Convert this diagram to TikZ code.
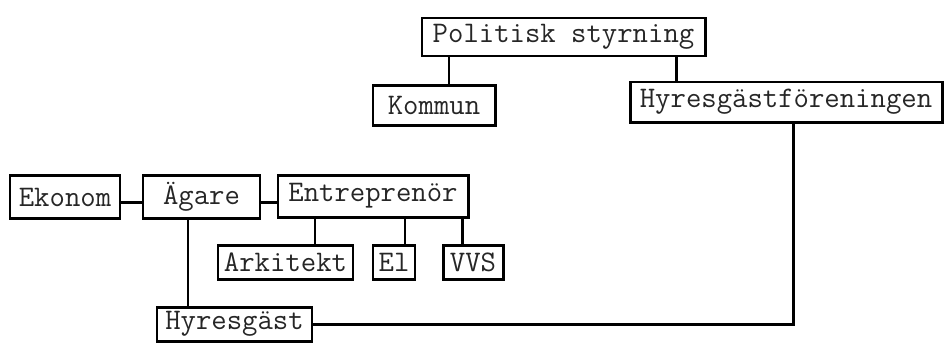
\documentclass[tikz,border=0pt]{standalone}
\usepackage{fontspec}

\tikzstyle{ruta}= [rectangle,draw,black,line width=1.7pt,inner sep=0pt,font=\ttfamily\fontsize{17}{20}\selectfont,text=black!85]
\tikzstyle{linje}= [black,line width=1.7pt]

\begin{document}
\begin{tikzpicture}

		\useasboundingbox (0,0) rectangle (18.88,-6.86);

		\node (pol) at (11.27,-0.74) [ruta,minimum width=5.66cm,minimum height=0.76cm] {Politisk styrning};
		\node (kom) at (8.68,-2.10) [ruta,minimum width=2.44cm,minimum height=0.80cm] {Kommun};
		\node (hyf) at (15.72,-2.04) [ruta,minimum width=6.24cm,minimum height=0.80cm] {Hyresgästföreningen};

		\node (eko) at (1.30,-3.94) [ruta,minimum width=2.20cm,minimum height=0.86cm] {Ekonom};
		\node (aga) at (4.03,-3.94) [ruta,minimum width=2.34cm,minimum height=0.86cm] {Ägare};
		\node (ent) at (7.46,-3.92) [ruta,minimum width=3.80cm,minimum height=0.84cm] {Entreprenör};

		\node (ark) at (5.71,-5.24) [ruta,minimum width=2.70cm,minimum height=0.68cm] {Arkitekt};
		\node (el) at (7.88,-5.24) [ruta,minimum width=0.84cm,minimum height=0.68cm] {El};
		\node (vvs) at (9.46,-5.24) [ruta,minimum width=1.20cm,minimum height=0.68cm] {VVS};

		\node (hyg) at (4.69,-6.48) [ruta,minimum width=3.10cm,minimum height=0.68cm] {Hyresgäst};

		\coordinate (k) at (8.98,0);
		\coordinate (h) at (13.52,0);
		\coordinate (r) at (15.86,0);
		\coordinate (a) at (3.76,0);
		\coordinate (e1) at (6.30,0);
		\coordinate (e2) at (8.10,0);
		\coordinate (e3) at (9.24,0);
		\coordinate (m) at (0,-4.04);

		\draw[linje] (pol.south -| k) -- (kom.north -| k);
		\draw[linje] (pol.south -| h) -- (hyf.north -| h);
		\draw[linje] (hyf.south -| r) |- (hyg.east);

		\draw[linje] (eko.east |- m) -- (aga.west |- m);
		\draw[linje] (aga.east |- m) -- (ent.west |- m);
		\draw[linje] (aga.south -| a) -- (hyg.north -| a);

		\draw[linje] (ent.south -| e1) -- (ark.north -| e1);
		\draw[linje] (ent.south -| e2) -- (el.north -| e2);
		\draw[linje] (ent.south -| e3) -- (vvs.north -| e3);

	\end{tikzpicture}
\end{document}
